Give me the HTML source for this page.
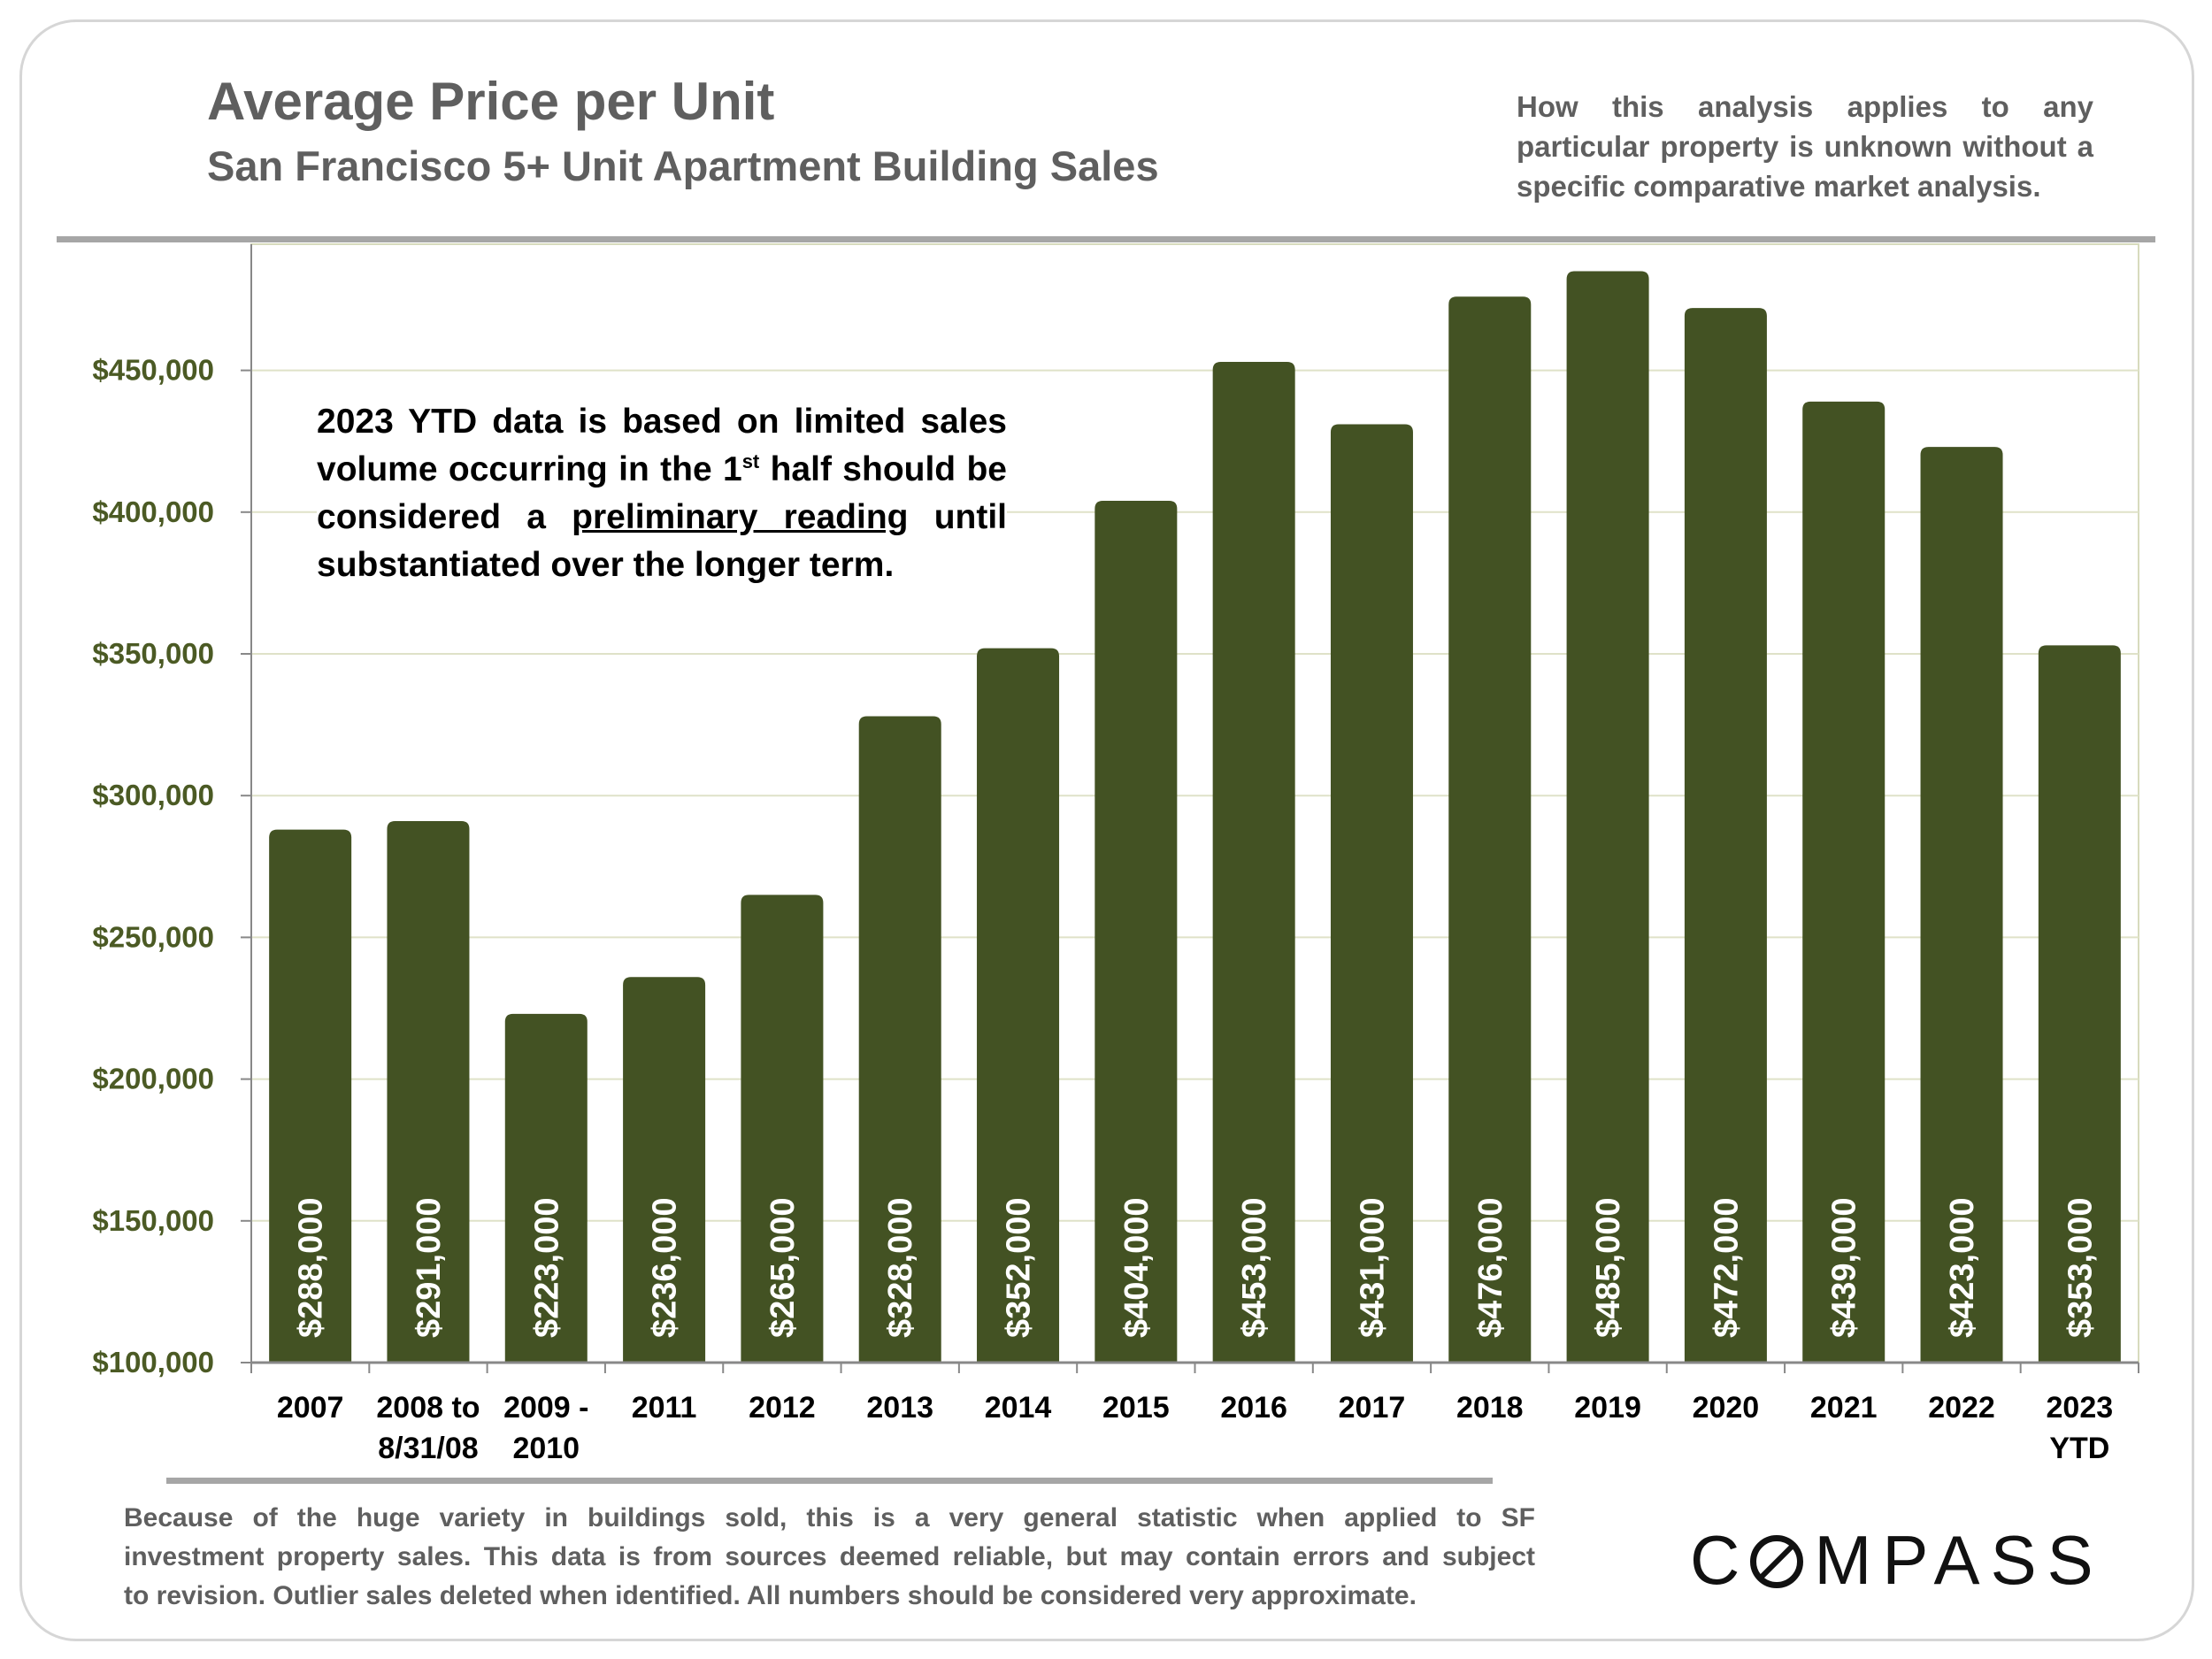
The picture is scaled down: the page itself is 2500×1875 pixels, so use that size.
<!DOCTYPE html>
<html><head><meta charset="utf-8">
<style>
html,body{margin:0;padding:0;background:#fff;}
body{width:2500px;height:1875px;position:relative;overflow:hidden;font-family:"Liberation Sans Narrow","Liberation Sans",sans-serif;}
.abs{position:absolute;}
.just{text-align:justify;text-align-last:justify;white-space:nowrap;}
</style></head>
<body>
<div class="abs" style="left:22px;top:22px;width:2452px;height:1827px;border:3px solid #d6d6d6;border-radius:64px;"></div>
<div class="abs" style="left:234px;top:80px;font-size:60px;font-weight:bold;color:#5f5f5f;">Average Price per Unit</div>
<div class="abs" style="left:234px;top:160px;font-size:47px;font-weight:bold;color:#5f5f5f;">San Francisco 5+ Unit Apartment Building Sales</div>
<div class="abs" style="left:1714px;top:98px;width:652px;font-size:33px;line-height:45px;font-weight:bold;color:#5f5f5f;">
<div class="just">How this analysis applies to any</div>
<div class="just">particular property is unknown without a</div>
<div>specific comparative market analysis.</div></div>
<div class="abs" style="left:64px;top:267px;width:2372px;height:7px;background:#a6a6a6;"></div>
<div class="abs" style="left:188px;top:1670px;width:1499px;height:7px;background:#a6a6a6;"></div>

<svg class="abs" style="left:0;top:0" width="2500" height="1875" id="chart"></svg>

<div class="abs" style="left:358px;top:450px;width:780px;font-size:39px;line-height:54px;font-weight:bold;color:#000;background:#fff;padding:0;">
<div class="just">2023 YTD data is based on limited sales</div>
<div class="just">volume occurring in the 1<sup style="font-size:22px;line-height:0">st</sup> half should be</div>
<div class="just">considered a <u>preliminary reading</u> until</div>
<div>substantiated over the longer term.</div></div>

<div class="abs" style="left:140px;top:1694px;width:1595px;font-size:30px;line-height:44px;font-weight:bold;color:#5f5f5f;">
<div class="just">Because of the huge variety in buildings sold, this is a very general statistic when applied to SF</div>
<div class="just">investment property sales. This data is from sources deemed reliable, but may contain errors and subject</div>
<div style="white-space:nowrap">to revision. Outlier sales deleted when identified. All numbers should be considered very approximate.</div></div>
<div class="abs" style="left:1910px;top:1718px;font-family:'Liberation Sans',sans-serif;font-size:78px;letter-spacing:12px;color:#111;white-space:nowrap;">C<span style="display:inline-block;width:60px;height:60px;border:7px solid #111;border-radius:50%;box-sizing:border-box;position:relative;vertical-align:-5px;margin-right:12px;"><span style="position:absolute;left:20px;top:-3px;width:6px;height:52px;background:#111;transform:rotate(45deg);"></span></span>MPASS</div>

<script>
const categories=["2007","2008 to|8/31/08","2009 -|2010","2011","2012","2013","2014","2015","2016","2017","2018","2019","2020","2021","2022","2023|YTD"];
const values=[288000,291000,223000,236000,265000,328000,352000,404000,453000,431000,476000,485000,472000,439000,423000,353000];
const valueLabels=["$288,000","$291,000","$223,000","$236,000","$265,000","$328,000","$352,000","$404,000","$453,000","$431,000","$476,000","$485,000","$472,000","$439,000","$423,000","$353,000"];
const yTicks=[100000,150000,200000,250000,300000,350000,400000,450000];
const yTickLabels=["$100,000","$150,000","$200,000","$250,000","$300,000","$350,000","$400,000","$450,000"];

const svg=document.getElementById('chart');
const NS='http://www.w3.org/2000/svg';
const L=284,R=2417,T=276,B=1540;
const yMin=100000,pxPer=160.2/50000;
function y(v){return B-(v-yMin)*pxPer;}
const slot=(R-L)/categories.length;
function xc(i){return L+slot*(i+0.5);}
function mk(tag,attrs){const e=document.createElementNS(NS,tag);for(const k in attrs)e.setAttribute(k,attrs[k]);svg.appendChild(e);return e;}

const frame=mk('rect',{x:L,y:T,width:R-L,height:B-T,fill:'none',stroke:'#d7dbbd','stroke-width':2});


yTicks.forEach((t,i)=>{
  if(i>0){const g=mk('line',{x1:L,x2:R,y1:y(t),y2:y(t),stroke:'#dfe2c8','stroke-width':2});
  
  }
  const tk=mk('line',{x1:L-12,x2:L,y1:y(t),y2:y(t),stroke:'#888','stroke-width':2});
  
  
  const tx=mk('text',{x:242,y:y(t)+11,'text-anchor':'end','font-size':33,'font-weight':'bold',fill:'#4b5a24','font-family':'Liberation Sans Narrow, Liberation Sans, sans-serif'});
  tx.textContent=yTickLabels[i];
  
  
});
const yax=mk('line',{x1:L,x2:L,y1:T,y2:B,stroke:'#888','stroke-width':2});


const bw=93,r=9;
values.forEach((v,i)=>{
  const x0=xc(i)-bw/2,yt=y(v);
  const p=mk('path',{d:`M${x0},${B}V${yt+r}Q${x0},${yt} ${x0+r},${yt}H${x0+bw-r}Q${x0+bw},${yt} ${x0+bw},${yt+r}V${B}Z`,fill:'#435223'});
  
  
  const t=mk('text',{x:0,y:0,transform:`translate(${xc(i)+13},${B-28}) rotate(-90)`,'font-size':38,'font-weight':'bold',fill:'#fff','font-family':'Liberation Sans, sans-serif'});
  t.textContent=valueLabels[i];
  
  
});
const xax=mk('line',{x1:L,x2:R,y1:B,y2:B,stroke:'#888','stroke-width':3});


for(let i=0;i<=categories.length;i++){
  const tk=mk('line',{x1:L+slot*i,x2:L+slot*i,y1:B,y2:B+12,stroke:'#888','stroke-width':2});
  
  
}
categories.forEach((c,i)=>{
  c.split('|').forEach((ln,j)=>{
    const t=mk('text',{x:xc(i),y:1602+j*46,'text-anchor':'middle','font-size':34,'font-weight':'bold',fill:'#000','font-family':'Liberation Sans Narrow, Liberation Sans, sans-serif'});
    t.textContent=ln;
    
    
  });
});
</script>
</body></html>
